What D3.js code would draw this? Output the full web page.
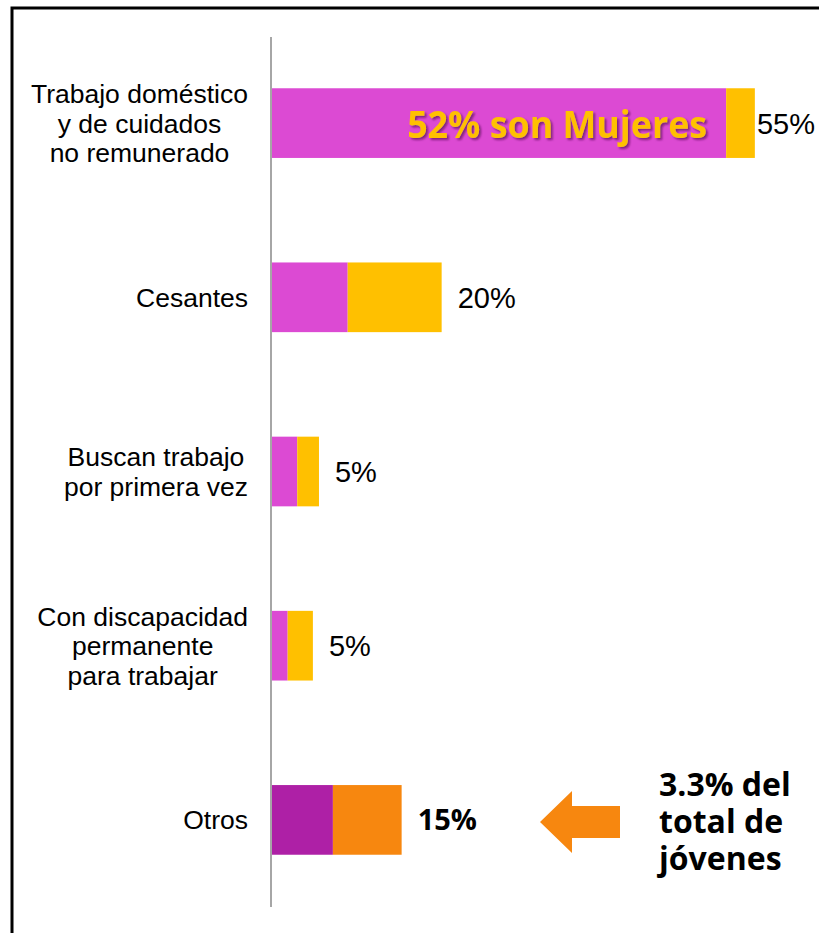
<!DOCTYPE html>
<html>
<head>
<meta charset="utf-8">
<script src="https://cdn.jsdelivr.net/npm/d3@7"></script>
<style>
  body { margin: 0; background: #fff; }
</style>
</head>
<body>
<div id="chart"></div>
<script>
const W = 819, H = 933;

// categories (multi-line labels split on \n)
const categories = [
  "Trabajo doméstico\ny de cuidados\nno remunerado",
  "Cesantes",
  "Buscan trabajo\npor primera vez",
  "Con discapacidad\npermanente\npara trabajar",
  "Otros"
];
// percentage of inactive youth, split by sex
const women = [52.2, 8.7, 2.9, 1.8, 7.0];
const men   = [3.3, 10.8, 2.5, 2.9, 7.9];
const totalLabels = ["55%", "20%", "5%", "5%", "15%"];

const colWomen = "#dc4ad3", colMen = "#ffc000";
const colWomenHi = "#ae20a6", colMenHi = "#f7870f";

const table = categories.map((c, i) => ({cat: c, women: women[i], men: men[i]}));
const series = d3.stack().keys(["women", "men"])(table);

const svg = d3.select("#chart").append("svg")
  .attr("width", W).attr("height", H)
  .style("font-family", "'Liberation Sans', Arial, sans-serif");

// frame
svg.append("rect")
  .attr("x", 12).attr("y", 8).attr("width", W + 20).attr("height", H + 20)
  .attr("fill", "none").attr("stroke", "#000").attr("stroke-width", 3);

const defs = svg.append("defs");
defs.append("filter").attr("id", "shadow")
  .attr("x", "-10%").attr("y", "-30%").attr("width", "120%").attr("height", "160%")
  .append("feDropShadow")
    .attr("dx", 2).attr("dy", 2).attr("stdDeviation", 1.2)
    .attr("flood-color", "#5a1656").attr("flood-opacity", 0.7);

const x = d3.scaleLinear().domain([0, 60]).range([272, 794]);
const y = d3.scaleBand().domain(categories).range([36, 907])
  .paddingInner(0.6).paddingOuter(0.3);

const last = categories[categories.length - 1];

// bars
svg.append("g")
  .selectAll("g")
  .data(series)
  .join("g")
  .selectAll("rect")
  .data(s => s.map(d => ({key: s.key, d})))
  .join("rect")
    .attr("x", p => x(p.d[0]))
    .attr("y", p => y(p.d.data.cat))
    .attr("width", p => x(p.d[1]) - x(p.d[0]))
    .attr("height", y.bandwidth())
    .attr("fill", p => {
      const hi = p.d.data.cat === last;
      if (p.key === "women") return hi ? colWomenHi : colWomen;
      return hi ? colMenHi : colMen;
    });

// axis line
svg.append("line")
  .attr("x1", 271).attr("x2", 271)
  .attr("y1", y.range()[0] + 1).attr("y2", y.range()[1])
  .attr("stroke", "#a6a6a6").attr("stroke-width", 2);

// category labels: centred lines, block right-aligned to the axis
const lineH = 29.5;
const catG = svg.append("g").selectAll("text")
  .data(categories)
  .join("text")
    .attr("font-size", 26.5)
    .attr("fill", "#000")
    .attr("text-anchor", "middle");

catG.each(function(c) {
  const t = d3.select(this);
  const lines = c.split("\n");
  const cy = y(c) + y.bandwidth() / 2;
  const y0 = cy - (lines.length - 1) * lineH / 2 + 9.5;
  lines.forEach((ln, i) => {
    t.append("tspan").attr("y", y0 + i * lineH).text(ln);
  });
  let maxW = 0;
  t.selectAll("tspan").each(function() { maxW = Math.max(maxW, this.getComputedTextLength()); });
  t.selectAll("tspan").attr("x", 248 - maxW / 2);
});

// total labels
svg.append("g").selectAll("text")
  .data(table)
  .join("text")
    .attr("font-size", d => d.cat === last ? 29 : 29)
    .attr("font-weight", d => d.cat === last ? "bold" : "normal")
    .attr("font-family", d => d.cat === last ? "'Open Sans', sans-serif" : null)
    .attr("fill", "#000")
    .attr("y", d => y(d.cat) + y.bandwidth() / 2 + 10.5)
    .text((d, i) => totalLabels[i])
    .attr("x", function(d) {
      const end = x(d.women + d.men);
      const w = this.getComputedTextLength();
      return Math.min(end + 16, W - 4 - w);
    });

// "52% son Mujeres" inside the first bar
const first = table[0];
svg.append("text")
  .attr("x", x(first.women) - 19)
  .attr("y", y(first.cat) + y.bandwidth() / 2 + 15)
  .attr("text-anchor", "end")
  .attr("font-family", "'Open Sans', sans-serif")
  .attr("font-weight", "bold")
  .attr("font-size", 37)
  .attr("fill", colMen)
  .attr("filter", "url(#shadow)")
  .attr("textLength", 300)
  .attr("lengthAdjust", "spacingAndGlyphs")
  .text("52% son Mujeres");

// arrow + note on the last row
const cyLast = y(last) + y.bandwidth() / 2;
const ax = 540, ay = cyLast + 2;
svg.append("path")
  .attr("d", `M${ax},${ay} L${ax + 32},${ay - 31} L${ax + 32},${ay - 16} L${ax + 80},${ay - 16} L${ax + 80},${ay + 16} L${ax + 32},${ay + 16} L${ax + 32},${ay + 31} Z`)
  .attr("fill", colMenHi);

const note = ["3.3% del", "total de", "jóvenes"];
svg.append("text")
  .attr("font-family", "'Open Sans', sans-serif")
  .attr("font-weight", "bold")
  .attr("font-size", 32)
  .attr("fill", "#000")
  .selectAll("tspan")
  .data(note)
  .join("tspan")
    .attr("x", 659)
    .attr("y", (d, i) => cyLast - 24 + i * 37)
    .text(d => d);
</script>
</body>
</html>
